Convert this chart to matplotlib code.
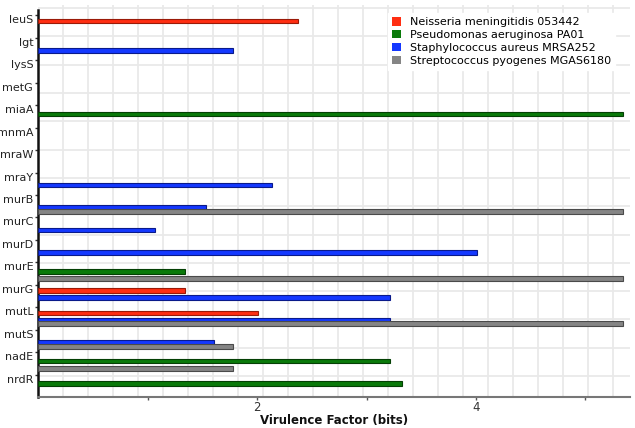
import numpy as np
import matplotlib
matplotlib.use('Agg')
import matplotlib.pyplot as plt

# genes on the y axis, top to bottom
genes = ['leuS', 'lgt', 'lysS', 'metG', 'miaA', 'mnmA', 'mraW', 'mraY', 'murB',
         'murC', 'murD', 'murE', 'murG', 'mutL', 'mutS', 'nadE', 'nrdR']

strains = ['Neisseria meningitidis 053442', 'Pseudomonas aeruginosa PA01',
           'Staphylococcus aureus MRSA252', 'Streptococcus pyogenes MGAS6180']

# virulence factor (bits) per gene, 0 = no bar
neisseria = [2.37, 0, 0, 0, 0, 0, 0, 0, 0, 0, 0, 0, 1.34, 2.01, 0, 0, 0]
pseudomonas = [0, 0, 0, 0, 5.34, 0, 0, 0, 0, 0, 0, 1.34, 0, 0, 0, 3.21, 3.32]
staph = [0, 1.78, 0, 0, 0, 0, 0, 2.14, 1.53, 1.07, 4.01, 0, 3.21, 3.21, 1.61, 0, 0]
strep = [0, 0, 0, 0, 0, 0, 0, 0, 5.34, 0, 0, 5.34, 0, 5.34, 1.78, 1.78, 0]

colors = ['#ff2e12', '#0a7a0a', '#1438ff', '#858585']
edges = ['#9a1a08', '#044004', '#0a1a8a', '#4a4a4a']
offsets = [-0.25, -0.11, 0.06, 0.23]   # slot of each strain inside a gene row

fig = plt.figure(figsize=(6.35, 4.28), dpi=100)
ax = fig.add_axes([0.06, 0.072, 0.932, 0.916])

y = np.arange(len(genes))
series = [neisseria, pseudomonas, staph, strep]
for vals, off, c, ec, name in zip(series, offsets, colors, edges, strains):
    vals = np.array(vals, dtype=float)
    mask = vals > 0
    ax.barh(y[mask] + off, vals[mask], height=0.21, color=c, edgecolor=ec,
            linewidth=0.8, zorder=3)
    ax.barh([-10], [0], color=c, label=name)   # legend swatch only

ax.set_xlim(0, 5.406)
ax.set_ylim(len(genes) - 0.5, -0.95)

# light background grid, fixed pixel-like spacing
for gx in np.arange(25 / 109.5, 5.4, 25 / 109.5):
    ax.axvline(gx, color='#e9e9e9', lw=1.3, zorder=0)
for gy in np.arange(-0.82, len(genes) - 0.5, 1.26):
    ax.axhline(gy, color='#e9e9e9', lw=1.3, zorder=0)

# gene labels sit at the top of each row
ax.set_yticks(y - 0.5)
ax.set_yticklabels(genes, fontsize=8, color='#222222', va='top')
ax.tick_params(axis='y', length=2.5, width=1, pad=1, color='#333333')

ax.set_xticks([1, 2, 3, 4, 5])
ax.set_xticklabels(['', '2', '', '4', ''], fontsize=8.5, color='#333333')
ax.tick_params(axis='x', length=2.5, width=1, pad=0.5, color='#555555')
ax.set_xlabel('Virulence Factor (bits)', fontsize=8.5, fontweight='bold',
              labelpad=0, color='#111111')

for s in ['top', 'right']:
    ax.spines[s].set_visible(False)
ax.spines['left'].set_color('#111111')
ax.spines['left'].set_linewidth(1.8)
ax.spines['left'].set_bounds(len(genes) - 0.5, -0.75)
ax.spines['bottom'].set_color('#777777')
ax.spines['bottom'].set_linewidth(1.5)

leg = ax.legend(loc='upper right', bbox_to_anchor=(0.985, 0.995), fontsize=8,
                frameon=True, framealpha=1, edgecolor='white', fancybox=False,
                handlelength=0.8, handleheight=0.8, handletextpad=0.8,
                labelspacing=0.25, borderpad=0.4)
leg.set_zorder(5)

fig.savefig('out.png', dpi=100)
